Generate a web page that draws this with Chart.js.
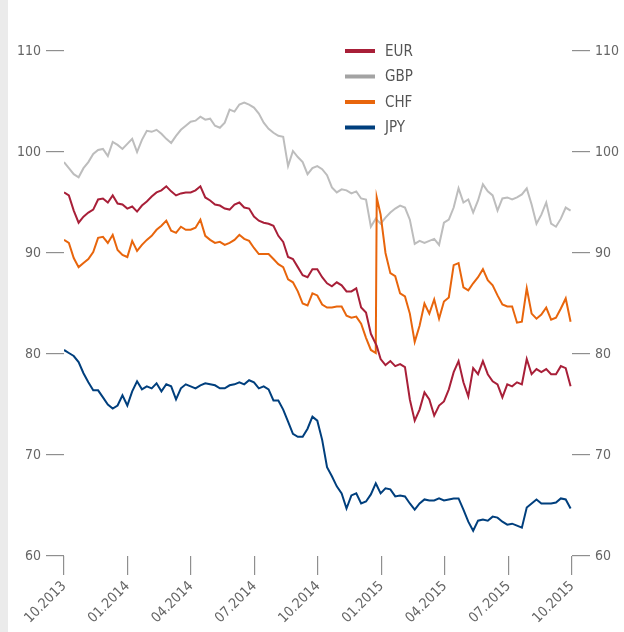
<!DOCTYPE html>
<html>
<head>
<meta charset="utf-8">
<script src="https://cdn.jsdelivr.net/npm/chart.js@4/dist/chart.umd.min.js"></script>
<style>
    html, body { margin: 0; padding: 0; background: #fff; }
    #wrap { position: relative; width: 624px; height: 632px; }
    #strip { position: absolute; left: 0; top: 0; width: 8px; height: 632px; background: #ebebeb; }
    canvas { position: absolute; left: 0; top: 0; }
</style>
</head>
<body>
<div id="wrap">
    <div id="strip"></div>
    <canvas id="chart" width="624" height="632"></canvas>
</div>
<script>
// CURRENCY INDEX CHART (10.2013 - 10.2015)

// Week index since 10.2013 (one extra sample on the CHF jump)
const weeks = [
    0, 1, 2, 3, 4, 5, 6, 7, 8, 9,
    10, 11, 12, 13, 14, 15, 16, 17, 18, 19,
    20, 21, 22, 23, 24, 25, 26, 27, 28, 29,
    30, 31, 32, 33, 34, 35, 36, 37, 38, 39,
    40, 41, 42, 43, 44, 45, 46, 47, 48, 49,
    50, 51, 52, 53, 54, 55, 56, 57, 58, 59,
    60, 61, 62, 63, 64, 64.2,
    65, 66, 67, 68, 69, 70, 71, 72, 73, 74,
    75, 76, 77, 78, 79, 80, 81, 82, 83, 84,
    85, 86, 87, 88, 89, 90, 91, 92, 93, 94,
    95, 96, 97, 98, 99, 100, 101, 102, 103, 104
];

const eur = [
    96.0, 95.7, 94.2, 93.0, 93.6, 94.0, 94.3, 95.3, 95.4, 95.0,
    95.7, 94.9, 94.8, 94.4, 94.6, 94.1, 94.7, 95.1, 95.6, 96.0,
    96.2, 96.6, 96.1, 95.7, 95.9, 96.0, 96.0, 96.2, 96.6, 95.5,
    95.2, 94.8, 94.7, 94.4, 94.3, 94.8, 95.0, 94.5, 94.4, 93.6,
    93.2, 93.0, 92.9, 92.7, 91.7, 91.1, 89.6, 89.4, 88.6, 87.8,
    87.6, 88.4, 88.4, 87.6, 87.0, 86.7, 87.1, 86.8, 86.2, 86.2,
    86.5, 84.6, 84.1, 82.0, 81.0, 80.8,
    79.5, 78.9, 79.3, 78.8, 79.0, 78.7, 75.5, 73.4, 74.5, 76.2,
    75.5, 73.9, 74.9, 75.3, 76.5, 78.2, 79.3, 77.2, 75.8, 78.6,
    78.0, 79.3, 78.0, 77.3, 77.0, 75.7, 77.0, 76.8, 77.2, 77.0,
    79.5, 78.0, 78.5, 78.2, 78.5, 78.0, 78.0, 78.8, 78.6, 76.8
];

const gbp = [
    99.0, 98.4, 97.8, 97.5, 98.4, 99.0, 99.8, 100.2, 100.3, 99.6,
    101.0, 100.7, 100.3, 100.8, 101.3, 100.0, 101.2, 102.1, 102.0, 102.2,
    101.8, 101.3, 100.9, 101.6, 102.2, 102.6, 103.0, 103.1, 103.5, 103.2,
    103.3, 102.6, 102.4, 102.9, 104.2, 104.0, 104.7, 104.9, 104.7, 104.4,
    103.8, 102.9, 102.3, 101.9, 101.6, 101.5, 98.6, 100.1, 99.5, 99.0,
    97.8, 98.4, 98.6, 98.3, 97.7, 96.5, 96.0, 96.3, 96.2, 95.9,
    96.1, 95.4, 95.3, 92.6, 93.4, 93.3,
    92.9, 93.5, 94.0, 94.4, 94.7, 94.5, 93.3, 90.9, 91.2, 91.0,
    91.2, 91.4, 90.8, 93.0, 93.3, 94.5, 96.4, 95.0, 95.3, 94.0,
    95.2, 96.8, 96.1, 95.7, 94.2, 95.4, 95.5, 95.3, 95.5, 95.8,
    96.4, 94.8, 92.9, 93.8, 95.0, 92.9, 92.6, 93.4, 94.5, 94.2
];

const chf = [
    91.3, 91.0, 89.5, 88.6, 89.0, 89.4, 90.1, 91.5, 91.6, 91.0,
    91.8, 90.3, 89.8, 89.6, 91.2, 90.2, 90.8, 91.3, 91.7, 92.3,
    92.7, 93.2, 92.2, 92.0, 92.6, 92.3, 92.3, 92.5, 93.3, 91.7,
    91.3, 91.0, 91.1, 90.8, 91.0, 91.3, 91.8, 91.4, 91.2, 90.5,
    89.9, 89.9, 89.9, 89.4, 88.9, 88.6, 87.4, 87.1, 86.2, 85.0,
    84.8, 86.0, 85.8, 84.9, 84.6, 84.6, 84.7, 84.7, 83.8, 83.6,
    83.7, 83.0, 81.6, 80.4, 80.1, 95.5,
    93.8, 90.0, 88.0, 87.7, 86.0, 85.7, 84.0, 81.2, 82.8, 85.0,
    84.0, 85.4, 83.5, 85.2, 85.6, 88.8, 89.0, 86.6, 86.3, 87.0,
    87.6, 88.4, 87.3, 86.8, 85.8, 84.9, 84.7, 84.7, 83.1, 83.2,
    86.5, 84.0, 83.5, 83.9, 84.6, 83.4, 83.6, 84.5, 85.5, 83.2
];

const jpy = [
    80.4, 80.1, 79.8, 79.2, 78.1, 77.2, 76.4, 76.4, 75.7, 75.0,
    74.6, 74.9, 75.9, 74.9, 76.3, 77.3, 76.5, 76.8, 76.6, 77.1,
    76.3, 77.0, 76.8, 75.5, 76.6, 77.0, 76.8, 76.6, 76.9, 77.1,
    77.0, 76.9, 76.6, 76.6, 76.9, 77.0, 77.2, 77.0, 77.4, 77.2,
    76.6, 76.8, 76.5, 75.4, 75.4, 74.5, 73.3, 72.1, 71.8, 71.8,
    72.6, 73.8, 73.4, 71.5, 68.8, 67.9, 66.9, 66.2, 64.7, 66.0,
    66.2, 65.2, 65.4, 66.1, 67.2, 67.0,
    66.2, 66.7, 66.6, 65.9, 66.0, 65.9, 65.2, 64.6, 65.2, 65.6,
    65.5, 65.5, 65.7, 65.5, 65.6, 65.7, 65.7, 64.6, 63.4, 62.5,
    63.5, 63.6, 63.5, 63.9, 63.8, 63.4, 63.1, 63.2, 63.0, 62.8,
    64.8, 65.2, 65.6, 65.2, 65.2, 65.2, 65.3, 65.7, 65.6, 64.7
];

// Axis ticks
const quarterWeeks = [0, 13.04, 26.07, 39.11, 52.14, 65.18, 78.21, 91.25, 104.29];
const quarterLabels = ['10.2013', '01.2014', '04.2014', '07.2014', '10.2014', '01.2015', '04.2015', '07.2015', '10.2015'];
const yTicks = [60, 70, 80, 90, 100, 110];

const FONT = "'Liberation Sans Narrow', 'DejaVu Sans Condensed', 'Roboto', sans-serif";
const AXIS_COLOR = '#8f8f8f';
const TEXT_COLOR = '#666';

function toPoints(values) {
    return values.map((v, i) => ({ x: weeks[i], y: v }));
}

// Legend drawn inside the plot, stacked vertically
const insideLegend = {
    id: 'insideLegend',
    afterDraw(chart) {
        const ctx = chart.ctx;
        ctx.save();
        ctx.font = '15px ' + FONT;
        ctx.textBaseline = 'middle';
        ctx.textAlign = 'left';
        chart.data.datasets.forEach((ds, i) => {
            const y = 51 + i * 25.5;
            ctx.fillStyle = ds.legendColor || ds.borderColor;
            ctx.fillRect(345, y - 2, 30, 4);
            ctx.fillStyle = '#555';
            ctx.fillText(ds.label, 385, y + 1);
        });
        ctx.restore();
    }
};

function yAxis(position, width) {
    return {
        type: 'linear',
        position: position,
        min: 60,
        max: 110,
        afterBuildTicks: scale => { scale.ticks = yTicks.map(v => ({ value: v })); },
        afterFit: scale => { scale.width = width; },
        border: { display: false },
        grid: {
            drawOnChartArea: false,
            drawTicks: true,
            tickLength: 18,
            color: AXIS_COLOR,
            lineWidth: 1.2
        },
        ticks: {
            padding: 5,
            color: TEXT_COLOR,
            font: { family: FONT, size: 14 }
        }
    };
}

const ctx = document.getElementById('chart');

new Chart(ctx, {
    type: 'line',
    data: {
        datasets: [
            { label: 'EUR', data: toPoints(eur), borderColor: '#a81f38', order: 1 },
            { label: 'GBP', data: toPoints(gbp), borderColor: '#bdbdbd', legendColor: '#a3a3a3', order: 3 },
            { label: 'CHF', data: toPoints(chf), borderColor: '#e8650c', order: 2 },
            { label: 'JPY', data: toPoints(jpy), borderColor: '#003f7d', order: 4 }
        ]
    },
    options: {
        responsive: false,
        animation: false,
        parsing: false,
        layout: { padding: { top: 51, left: 0, right: 0, bottom: 0 } },
        elements: {
            line: { borderWidth: 2, tension: 0, fill: false },
            point: { radius: 0 }
        },
        plugins: {
            legend: { display: false },
            tooltip: { enabled: false }
        },
        scales: {
            x: {
                type: 'linear',
                min: 0,
                max: 104.29,
                afterBuildTicks: scale => { scale.ticks = quarterWeeks.map(v => ({ value: v })); },
                afterFit: scale => { scale.height = 76; },
                border: { display: false },
                grid: {
                    drawOnChartArea: false,
                    drawTicks: true,
                    tickLength: 19,
                    color: AXIS_COLOR,
                    lineWidth: 1.2
                },
                ticks: {
                    autoSkip: false,
                    maxRotation: 45,
                    minRotation: 45,
                    padding: 3,
                    color: TEXT_COLOR,
                    font: { family: FONT, size: 14 },
                    callback: (value, index) => quarterLabels[index]
                }
            },
            y: yAxis('left', 64),
            y2: yAxis('right', 52)
        }
    },
    plugins: [insideLegend]
});
</script>
</body>
</html>
